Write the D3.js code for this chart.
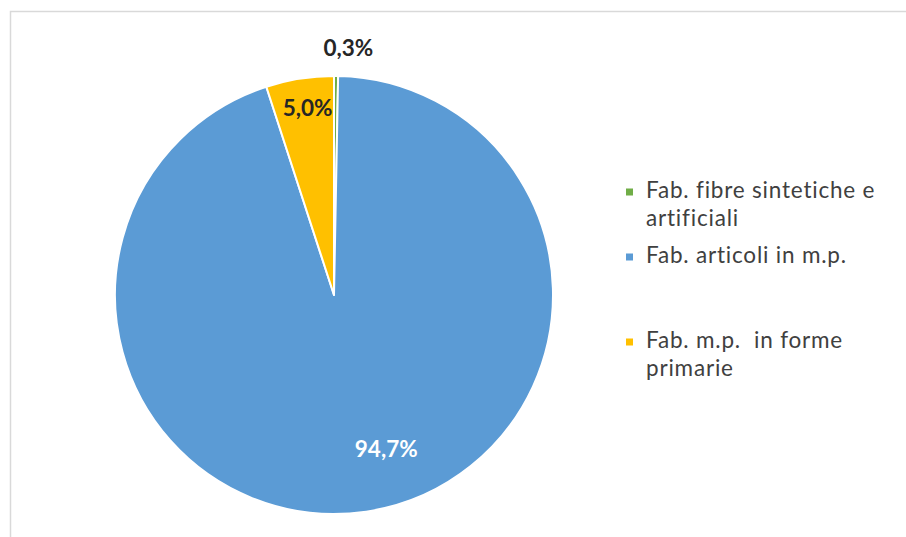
<!DOCTYPE html>
<html>
<head>
<meta charset="utf-8">
<script src="https://cdn.jsdelivr.net/npm/d3@7"></script>
<style>
  html, body { margin: 0; padding: 0; background: #fff; }
  svg { display: block; }
</style>
</head>
<body>
<svg id="chart" width="906" height="537"></svg>
<script>
// Sector shares (percent), listed clockwise from 12 o'clock
const categories = ["Fab. fibre sintetiche e artificiali", "Fab. articoli in m.p.", "Fab. m.p.  in forme primarie"];
const values = [0.3, 94.7, 5.0];
const labels = ["0,3%", "94,7%", "5,0%"];
const colors = ["#70AD47", "#5B9BD5", "#FFC000"];
const legendLines = [["Fab. fibre sintetiche e", "artificiali"], ["Fab. articoli in m.p."], ["Fab. m.p.\u00a0 in forme", "primarie"]];

const svg = d3.select("#chart");
const font = "Lato, 'Open Sans', sans-serif";

// Frame of the chart area
svg.append("rect")
  .attr("x", 10.5).attr("y", 11.5)
  .attr("width", 906).attr("height", 537)
  .attr("fill", "#fff").attr("stroke", "#d9d9d9").attr("stroke-width", 1.5);

const cx = 334, cy = 295, r = 219;
const pie = d3.pie().sort(null).value(d => d);
const arcs = pie(values);
const arc = d3.arc().innerRadius(0).outerRadius(r);

const g = svg.append("g").attr("transform", `translate(${cx},${cy})`);
g.selectAll("path").data(arcs).join("path")
  .attr("d", arc)
  .attr("fill", (d, i) => colors[i])
  .attr("stroke", "#fff").attr("stroke-width", 2).attr("stroke-linejoin", "round");

// Data labels: small slices outside/near rim, large slice inside
const labelArcs = [
  d3.arc().innerRadius(r * 1.12).outerRadius(r * 1.12),
  d3.arc().innerRadius(r * 0.72).outerRadius(r * 0.72),
  d3.arc().innerRadius(r * 0.86).outerRadius(r * 0.86)
];
const labelShift = [[12, 1], [29, 0], [3, 1]];
const labelColors = ["#262626", "#ffffff", "#262626"];
g.selectAll("text.lbl").data(arcs).join("text")
  .attr("class", "lbl")
  .attr("transform", (d, i) => {
    const [x, y] = labelArcs[i].centroid(d);
    return `translate(${x + labelShift[i][0]},${y + labelShift[i][1]})`;
  })
  .attr("text-anchor", "middle").attr("dominant-baseline", "middle")
  .attr("font-family", font).attr("font-weight", "bold").attr("font-size", 22.5)
  .attr("fill", (d, i) => labelColors[i])
  .text((d, i) => labels[i]);

// Legend
const legendY = [192, 257, 342];
const legend = svg.append("g").attr("transform", "translate(626,0)");
categories.forEach((c, i) => {
  const item = legend.append("g").attr("transform", `translate(0,${legendY[i]})`);
  item.append("rect").attr("x", 0).attr("y", -3.5).attr("width", 7).attr("height", 7).attr("fill", colors[i]);
  legendLines[i].forEach((t, j) => {
    item.append("text")
      .attr("x", 20).attr("y", j * 28)
      .attr("dominant-baseline", "middle")
      .attr("font-family", font).attr("font-size", 22.5).attr("letter-spacing", 0.8).attr("fill", "#404040")
      .text(t);
  });
});
</script>
</body>
</html>
